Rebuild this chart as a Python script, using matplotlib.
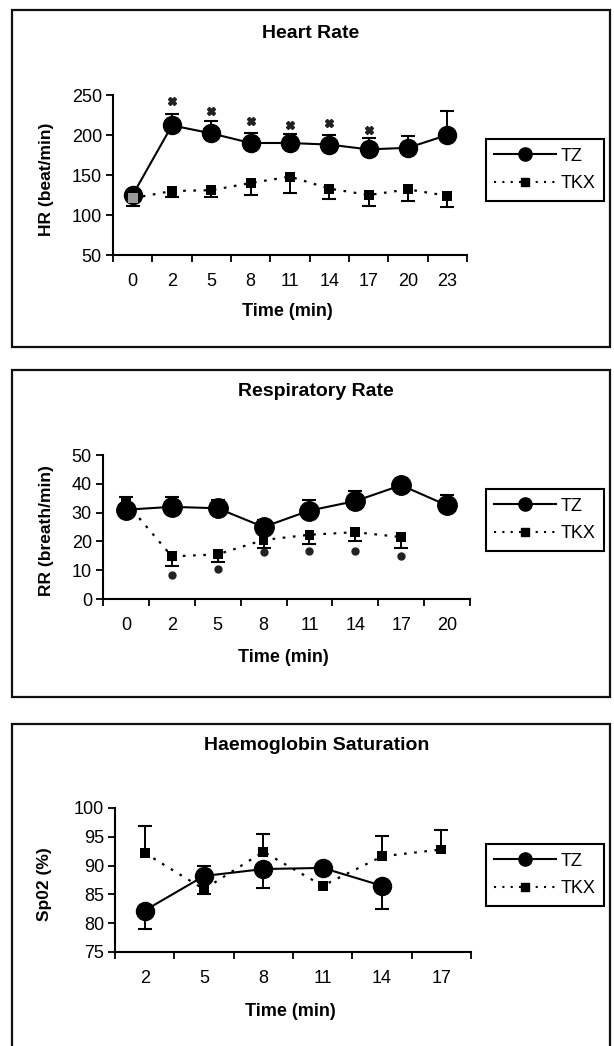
import numpy as np
import matplotlib
matplotlib.use('Agg')
import matplotlib.pyplot as plt
from matplotlib.lines import Line2D
from matplotlib.patches import Rectangle

plt.rcParams['font.family'] = ['Liberation Sans', 'DejaVu Sans']

nan = np.nan

# Heart rate
hr_time = ['0', '2', '5', '8', '11', '14', '17', '20', '23']
hr_tz = [125, 212, 202, 190, 190, 188, 182, 184, 200]
hr_tz_hi = [nan, 226, 218, 203, 201, 200, 196, 199, 230]
hr_tkx = [121, 130, 131, 140, 148, 133, 125, 132, 124]
hr_tkx_lo = [111, 122, 123, 125, 128, 120, 111, 117, 110]
hr_sig = [nan, 242, 230, 218, 213, 215, 206, nan, nan]

# Respiratory rate
rr_time = ['0', '2', '5', '8', '11', '14', '17', '20']
rr_tz = [31, 32, 31.5, 25, 30.7, 34, 39.5, 32.5]
rr_tz_hi = [35.3, 35.3, 34.5, 27.5, 34.3, 37.5, 41.5, 36]
rr_tkx = [33.5, 14.8, 15.5, 20.5, 22.3, 23.2, 21.5, nan]
rr_tkx_lo = [nan, 11.3, 12.8, 17.8, 19, 20, 17.6, nan]
rr_sig = [nan, 8.3, 10.3, 16.3, 16.5, 16.8, 14.8, nan]

# Haemoglobin saturation
sat_time = ['2', '5', '8', '11', '14', '17']
sat_tz = [82.2, 88.2, 89.4, 89.6, 86.5, nan]
sat_tz_lo = [79, 85, 86.1, nan, 82.4, nan]
sat_tkx = [92.2, 85.9, 92.4, 86.5, 91.6, 92.8]
sat_tkx_hi = [96.9, 89.9, 95.5, nan, 95.2, 96.2]

W, H = 614, 1046
fig = plt.figure(figsize=(W / 100, H / 100), dpi=100)


def fx(x):
    return x / W


def fy(y):
    return 1 - y / H


def bar(ax, x, mean, end):
    mean = np.asarray(mean, float)
    end = np.asarray(end, float)
    ok = ~np.isnan(end) & ~np.isnan(mean)
    ax.vlines(x[ok], mean[ok], end[ok], color='black', lw=1.4, zorder=2)
    ax.plot(x[ok], end[ok], '_', color='black', ms=10, mew=1.5, zorder=2)


def panel(box, ax_px, title, title_xy, ylabel, xlab_xy, ylab_x, labels,
          tz, tkx, ylim, yticks, legend_y, ms):
    x0, y0, x1, y1 = ax_px
    fig.patches.append(Rectangle((fx(box[0]), fy(box[3])),
                                 (box[2] - box[0]) / W, (box[3] - box[1]) / H,
                                 transform=fig.transFigure, fill=False,
                                 lw=1.6, ec='#111111'))
    ax = fig.add_axes([fx(x0), fy(y1), (x1 - x0) / W, (y1 - y0) / H])
    x = np.arange(len(labels))
    tz_mean, tz_err = tz
    tkx_mean, tkx_err = tkx
    bar(ax, x, tz_mean, tz_err)
    bar(ax, x, tkx_mean, tkx_err)
    ax.plot(x, tz_mean, '-', color='black', lw=1.5, marker='o', ms=ms,
            zorder=3)
    tkx_arr = np.asarray(tkx_mean, float)
    tz_arr = np.asarray(tz_mean, float)
    ax.plot(x, tkx_arr, color='black', lw=1.6, ls=(0, (1.2, 3.4)), zorder=3)
    close = np.abs(tkx_arr - tz_arr) < 0.05 * (ylim[1] - ylim[0])
    cols = np.where(close, '#9a9a9a', 'black')
    ax.scatter(x, tkx_arr, marker='s', s=50, c=cols, zorder=4, lw=0)

    ax.set_xlim(-0.5, len(labels) - 0.5)
    ax.set_ylim(*ylim)
    ax.set_yticks(yticks)
    ax.set_xticks(x)
    ax.set_xticklabels(labels)
    ax.set_xticks(np.arange(len(labels) + 1) - 0.5, minor=True)
    ax.tick_params(axis='x', which='major', length=0, pad=13, labelsize=13)
    ax.tick_params(axis='x', which='minor', length=5, width=1.3,
                   direction='out')
    ax.tick_params(axis='y', length=5, width=1.3, direction='out', pad=3,
                   labelsize=13)
    for s in ('top', 'right'):
        ax.spines[s].set_visible(False)
    for s in ('left', 'bottom'):
        ax.spines[s].set_linewidth(1.5)
        ax.spines[s].set_zorder(5)

    fig.text(fx(title_xy[0]), fy(title_xy[1]), title, ha='center',
             va='center', fontsize=14, fontweight='bold')
    fig.text(fx(xlab_xy[0]), fy(xlab_xy[1]), 'Time (min)', ha='center',
             va='center', fontsize=13, fontweight='bold')
    fig.text(fx(ylab_x), fy((y0 + y1) / 2 + 4), ylabel, ha='center',
             va='center', rotation=90, fontsize=12.5, fontweight='bold')

    handles = [Line2D([], [], color='black', lw=1.5, marker='o', ms=9.5),
               Line2D([], [], color='black', lw=1.5, ls=(0, (1, 3)),
                      marker='s', ms=6)]
    leg = fig.legend(handles, ['TZ', 'TKX'], loc='center left',
                     bbox_to_anchor=(fx(486), fy(legend_y)),
                     bbox_transform=fig.transFigure, fontsize=13,
                     handlelength=3.4, handletextpad=0.3, borderpad=0.45,
                     labelspacing=0.6, fancybox=False, framealpha=1,
                     edgecolor='black', borderaxespad=0, numpoints=1)
    leg.get_frame().set_linewidth(1.5)
    return ax, x


ax1, x1 = panel((12, 10, 610, 347), (113, 95, 467, 255), 'Heart Rate',
                (311, 34), 'HR (beat/min)', (287, 311), 47, hr_time,
                (hr_tz, hr_tz_hi), (hr_tkx, hr_tkx_lo), (50, 250),
                [50, 100, 150, 200, 250], 170, 13)
ax1.plot(x1, hr_sig, 'X', color='#222222', ms=6, zorder=3)

ax2, x2 = panel((12, 370, 610, 697), (103, 455, 470, 599), 'Respiratory Rate',
                (316, 392), 'RR (breath/min)', (283, 657), 47, rr_time,
                (rr_tz, rr_tz_hi), (rr_tkx, rr_tkx_lo), (0, 50),
                [0, 10, 20, 30, 40, 50], 520, 14)
ax2.plot(x2, rr_sig, 'o', color='#222222', ms=5, zorder=3)

ax3, x3 = panel((12, 724, 610, 1060), (115, 808, 471, 952),
                'Haemoglobin Saturation', (317, 746), 'Sp02 (%)', (290, 1012),
                45, sat_time, (sat_tz, sat_tz_lo), (sat_tkx, sat_tkx_hi),
                (75, 100), [75, 80, 85, 90, 95, 100], 875, 13)

fig.savefig('out.png', dpi=100)
